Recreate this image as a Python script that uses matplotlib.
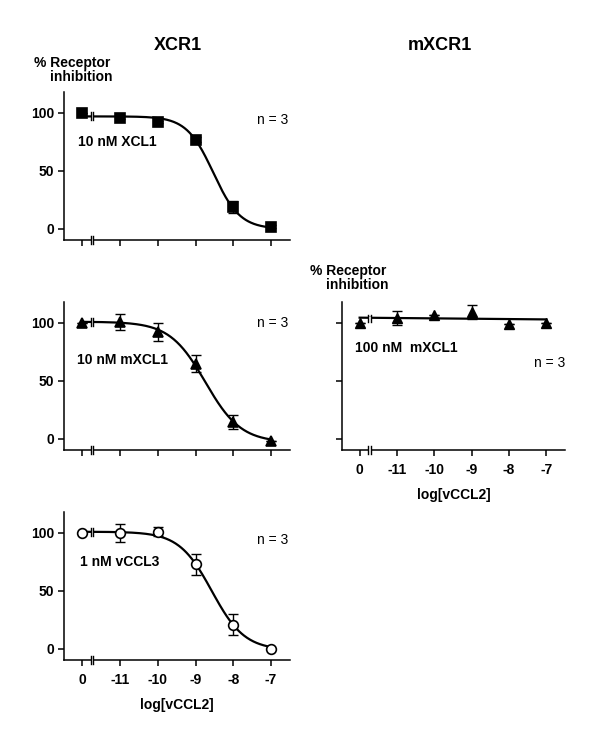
import numpy as np
import matplotlib
matplotlib.use('Agg')
import matplotlib.pyplot as plt

plt.rcParams['font.family'] = ['Liberation Sans', 'DejaVu Sans']
plt.rcParams['font.size'] = 10

# x slots: "0" (no vCCL2) is drawn in the slot left of -11
x_pos = [-12, -11, -10, -9, -8, -7]
x_labels = ['0', '-11', '-10', '-9', '-8', '-7']

# XCR1, 10 nM XCL1
xcl1_mean = [100, 96, 92, 77, 19, 2]
xcl1_err = [0, 1, 1, 2, 5, 1]
xcl1_fit = (97, 0, -8.53, 1.23)   # top, bottom, logIC50, hill

# XCR1, 10 nM mXCL1
mxcl1_mean = [100, 101, 92, 65, 15, -2]
mxcl1_err = [0, 7, 8, 7, 6, 0]
mxcl1_fit = (101, -3, -8.74, 0.92)

# XCR1, 1 nM vCCL3
vccl3_mean = [100, 100, 101, 73, 21, 0]
vccl3_err = [0, 8, 4, 9, 9, 0]
vccl3_fit = (101, -1, -8.57, 1.0)

# mXCR1, 100 nM mXCL1
mouse_mean = [100, 104, 107, 109, 99, 100]
mouse_err = [0, 6, 0, 6, 0, 0]
mouse_fit_x = [-12, -7]
mouse_fit_y = [104.5, 103]

W, H = 600, 748
fig = plt.figure(figsize=(W / 100, H / 100), dpi=100)

YLIM = (-9.5, 118)
XLIM = (-12.48, -6.5)
BRK = (-11.77, -11.70)


def fx(x):
    return x / W


def fy(y):
    return 1 - y / H


def hill(x, p):
    top, bot, c, h = p
    return bot + (top - bot) / (1 + 10 ** ((x - c) * h))


def break_mark(ax, y, dy=3.4):
    ax.plot(BRK, [y, y], color='white', lw=3, zorder=6, clip_on=False,
            solid_capstyle='butt')
    for xb in BRK:
        ax.plot([xb, xb], [y - dy, y + dy], color='black', lw=1.0,
                zorder=7, clip_on=False)


def make_ax(left, bottom_px, width, ylabels=True, xlabels=False):
    ax = fig.add_axes([fx(left), fy(bottom_px), width / W, 148 / H])
    ax.set_xlim(*XLIM)
    ax.set_ylim(*YLIM)
    for s in ['top', 'right']:
        ax.spines[s].set_visible(False)
    for s in ['left', 'bottom']:
        ax.spines[s].set_linewidth(1.1)
    ax.tick_params(direction='out', length=4, width=1.1, pad=3,
                   labelsize=10)
    ax.set_xticks(x_pos)
    ax.set_yticks([0, 50, 100])
    if xlabels:
        ax.set_xticklabels(x_labels, fontweight='bold')
        ax.tick_params(axis='x', pad=5)
        ax.set_xlabel('log[vCCL2]', fontweight='bold', fontsize=10,
                      labelpad=8)
    else:
        ax.set_xticklabels([])
    if ylabels:
        ax.set_yticklabels(['0', '50', '100'], fontweight='bold')
    else:
        ax.set_yticklabels([])
    break_mark(ax, YLIM[0])
    return ax


def draw_series(ax, mean, err, p, marker, ms, mfc):
    xs = np.linspace(-12, -7, 300)
    ax.plot(xs, hill(xs, p), color='black', lw=1.6, zorder=3)
    break_mark(ax, hill(-11.73, p))
    ax.errorbar(x_pos, mean, yerr=err, fmt='none', ecolor='black',
                elinewidth=1.0, capsize=3.5, capthick=1.0, zorder=4)
    ax.plot(x_pos, mean, linestyle='none', marker=marker, ms=ms,
            mfc=mfc, mec='black', mew=1.2, zorder=8, clip_on=False)


# panel 1
ax1 = make_ax(64, 240, 226)
draw_series(ax1, xcl1_mean, xcl1_err, xcl1_fit, 's', 6.5, 'black')

# panel 2
ax2 = make_ax(64, 450, 226)
draw_series(ax2, mxcl1_mean, mxcl1_err, mxcl1_fit, '^', 7.5, 'black')

# panel 3
ax3 = make_ax(64, 660, 226, xlabels=True)
draw_series(ax3, vccl3_mean, vccl3_err, vccl3_fit, 'o', 7, 'white')

# panel 4
ax4 = make_ax(341.7, 450, 223.3, ylabels=False, xlabels=True)
ax4.plot(mouse_fit_x, mouse_fit_y, color='black', lw=1.6, zorder=3)
break_mark(ax4, np.mean(mouse_fit_y))
ax4.errorbar(x_pos, mouse_mean, yerr=mouse_err, fmt='none', ecolor='black',
             elinewidth=1.0, capsize=3.5, capthick=1.0, zorder=4)
ax4.plot(x_pos, mouse_mean, linestyle='none', marker='^', ms=7.5,
         mfc='black', mec='black', zorder=8, clip_on=False)

# titles and labels
fig.text(fx(178), fy(45), 'XCR1', ha='center', va='center',
         fontsize=13, fontweight='bold')
fig.text(fx(440), fy(45), 'mXCR1', ha='center', va='center',
         fontsize=13, fontweight='bold')
for xl, yl in [(34, 63), (310, 271)]:
    fig.text(fx(xl), fy(yl), '% Receptor', ha='left', va='center',
             fontweight='bold')
    fig.text(fx(xl + 16), fy(yl + 14), 'inhibition', ha='left',
             va='center', fontweight='bold')

fig.text(fx(78), fy(141.5), '10 nM XCL1', va='center', fontweight='bold')
fig.text(fx(77), fy(360), '10 nM mXCL1', va='center', fontweight='bold')
fig.text(fx(80), fy(561.5), '1 nM vCCL3', va='center', fontweight='bold')
fig.text(fx(355), fy(348.5), '100 nM  mXCL1', va='center',
         fontweight='bold')

for xn, yn in [(273, 120.5), (273, 323), (273, 540), (550, 363)]:
    fig.text(fx(xn), fy(yn), 'n = 3', ha='center', va='center')

fig.savefig('out.png', dpi=100)
